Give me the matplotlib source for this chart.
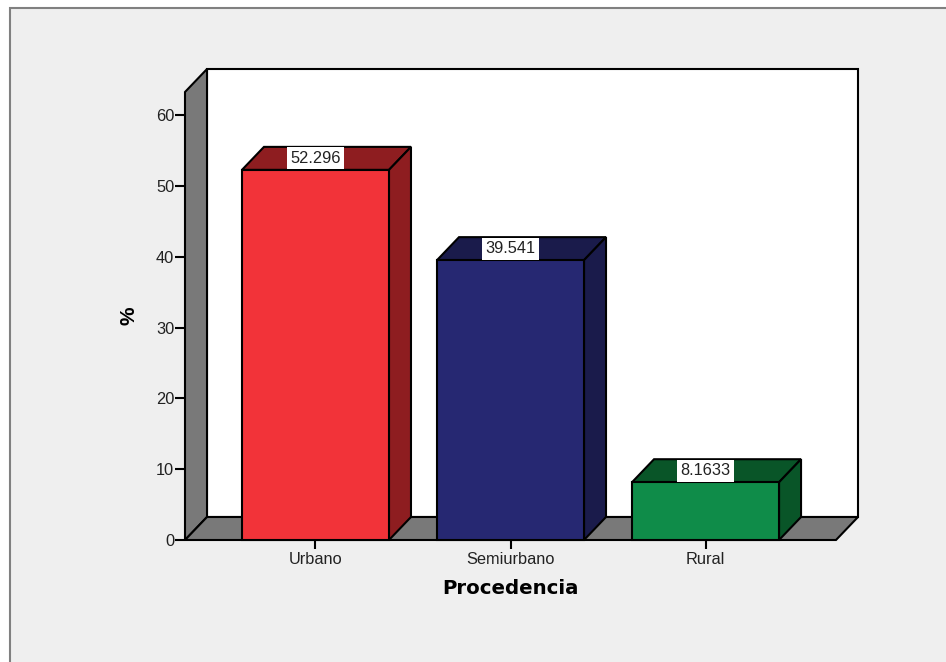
import matplotlib
matplotlib.use("Agg")
import matplotlib.pyplot as plt
from matplotlib.patches import Polygon, Rectangle

plt.rcParams['font.family'] = ['Liberation Sans', 'DejaVu Sans']

categories = ['Urbano', 'Semiurbano', 'Rural']
values = [52.296, 39.541, 8.1633]
yticks = [0, 10, 20, 30, 40, 50, 60]

front_colors = ['#F23339', '#262872', '#0F8C49']
dark_colors = ['#8E1D20', '#1A1B4B', '#095528']
wall_color = '#797979'
bg_color = '#EFEFEF'

W, H = 946, 662
fig = plt.figure(figsize=(W / 100, H / 100), dpi=100, facecolor='white')

# grey panel with the frame, runs off the right and bottom of the image
fig.add_artist(Rectangle((10 / W, -0.01), 1.01 - 10 / W, 1.01 - 8 / H, transform=fig.transFigure,
                         facecolor=bg_color, edgecolor='#808080', linewidth=1.5, zorder=-1))

# axes box is the front of the fake 3d box
ax = fig.add_axes([185 / W, 1 - 540 / H, (836 - 185) / W, (540 - 92) / H])
ax.patch.set_alpha(0)
x0, x1 = -0.669, 2.669
ymax = 63.3
ax.set_xlim(x0, x1)
ax.set_ylim(0, ymax)
for s in ax.spines.values():
    s.set_visible(False)

dx = 22 / 195
dy = 3.25
bar_w = 147 / 195
lw = 1.5

def poly(pts, color, z=2):
    ax.add_patch(Polygon(pts, closed=True, facecolor=color, edgecolor='black', linewidth=lw,
                         joinstyle='miter', clip_on=False, zorder=z))

# back wall, left wall, floor
poly([(x0 + dx, dy), (x1 + dx, dy), (x1 + dx, ymax + dy), (x0 + dx, ymax + dy)], 'white', 1)
poly([(x0, 0), (x0 + dx, dy), (x0 + dx, ymax + dy), (x0, ymax)], wall_color, 1)
poly([(x0, 0), (x1, 0), (x1 + dx, dy), (x0 + dx, dy)], wall_color, 1)

for i, v in enumerate(values):
    l = i - bar_w / 2
    r = i + bar_w / 2
    poly([(l, v), (r, v), (r + dx, v + dy), (l + dx, v + dy)], dark_colors[i], 3)
    poly([(r, 0), (r + dx, dy), (r + dx, v + dy), (r, v)], dark_colors[i], 3)
    poly([(l, 0), (r, 0), (r, v), (l, v)], front_colors[i], 4)
    ax.text(i, v + dy / 2, str(v), ha='center', va='center', fontsize=11.8, color='#222222', zorder=5,
            bbox=dict(boxstyle='square,pad=0.22', facecolor='white', edgecolor='none'))

ax.set_xticks(range(len(categories)))
ax.set_xticklabels(categories)
ax.set_yticks(yticks)
ax.tick_params(axis='x', length=6.5, width=1.5, labelsize=11.8, pad=2, labelcolor='#222222')
ax.tick_params(axis='y', length=7.2, width=1.5, labelsize=11.8, pad=0.5, labelcolor='#222222')

fig.text(510 / W, 1 - 589 / H, 'Procedencia', ha='center', va='center', fontsize=14.2,
         fontweight='bold', color='black', family='DejaVu Sans')
fig.text(129 / W, 1 - 316 / H, '%', ha='center', va='center', rotation=90, fontsize=15,
         fontweight='bold', color='black')

fig.savefig('out.png', dpi=100, facecolor=fig.get_facecolor())
